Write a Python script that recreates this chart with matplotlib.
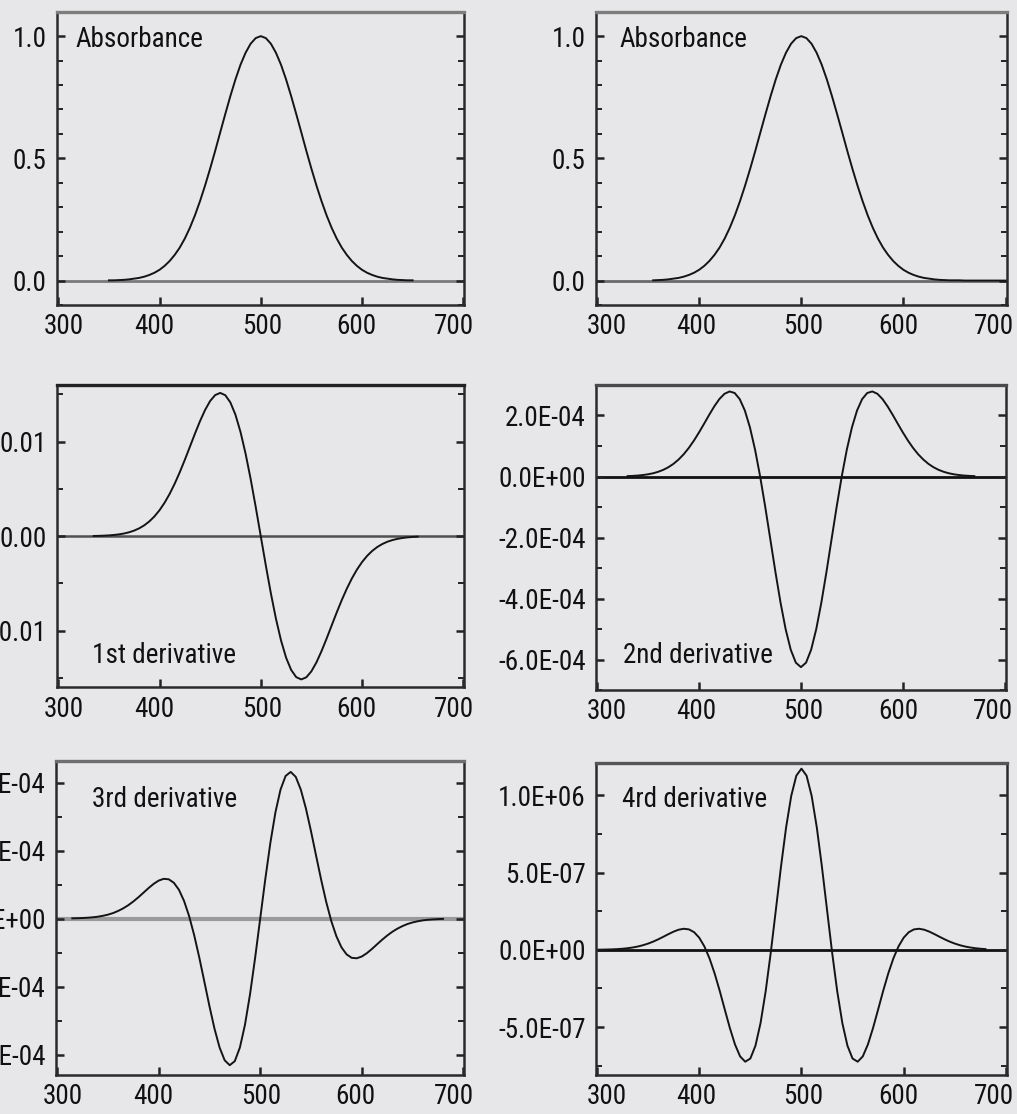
import numpy as np
import matplotlib.pyplot as plt
from matplotlib.ticker import FixedLocator, FixedFormatter, MultipleLocator
from matplotlib.transforms import ScaledTranslation

plt.rcParams['font.family'] = ['Roboto Condensed', 'DejaVu Sans']

# wavelength grid, nm
wavelength = np.arange(300, 701, 5)

# absorbance band and its derivatives, one value per grid point (300 -> 700 nm)
absorbance = [
    0.000, 0.000, 0.000, 0.000, 0.000, 0.000, 0.000, 0.000, 0.000, 0.001,
    0.001, 0.001, 0.002, 0.003, 0.005, 0.008, 0.011, 0.016, 0.023, 0.032,
    0.044, 0.060, 0.080, 0.105, 0.135, 0.172, 0.216, 0.267, 0.325, 0.389,
    0.458, 0.531, 0.607, 0.682, 0.755, 0.823, 0.883, 0.932, 0.969, 0.992,
    1.000,
    0.992, 0.969, 0.932, 0.883, 0.823, 0.755, 0.682, 0.607, 0.531, 0.458,
    0.389, 0.325, 0.267, 0.216, 0.172, 0.135, 0.105, 0.080, 0.060, 0.044,
    0.032, 0.023, 0.016, 0.011, 0.008, 0.005, 0.003, 0.002, 0.001, 0.001,
    0.001, 0.000, 0.000, 0.000, 0.000, 0.000, 0.000, 0.000, 0.000, 0.000,
]

# x 1e-3
first_deriv = [
    0.000, 0.001, 0.001, 0.003, 0.005, 0.008, 0.013, 0.021, 0.034, 0.053,
    0.083, 0.127, 0.191, 0.284, 0.413, 0.592, 0.833, 1.153, 1.567, 2.093,
    2.746, 3.538, 4.475, 5.556, 6.767, 8.082, 9.462, 10.849, 12.174, 13.356,
    14.307, 14.937, 15.163, 14.917, 14.153, 12.853, 11.031, 8.738, 6.058, 3.101,
    0.000,
    -3.101, -6.058, -8.738, -11.031, -12.853, -14.153, -14.917, -15.163, -14.937, -14.307,
    -13.356, -12.174, -10.849, -9.462, -8.082, -6.767, -5.556, -4.475, -3.538, -2.746,
    -2.093, -1.567, -1.153, -0.833, -0.592, -0.413, -0.284, -0.191, -0.127, -0.083,
    -0.053, -0.034, -0.021, -0.013, -0.008, -0.005, -0.003, -0.001, -0.001, 0.000,
]

# x 1e-4
second_deriv = [
    0.001, 0.001, 0.002, 0.003, 0.005, 0.008, 0.013, 0.020, 0.031, 0.048,
    0.072, 0.106, 0.154, 0.218, 0.304, 0.415, 0.556, 0.728, 0.935, 1.174,
    1.442, 1.728, 2.020, 2.298, 2.538, 2.711, 2.788, 2.738, 2.536, 2.163,
    1.609, 0.882, 0.000, -0.999, -2.064, -3.133, -4.137, -5.006, -5.679, -6.104,
    -6.250,
    -6.104, -5.679, -5.006, -4.137, -3.133, -2.064, -0.999, 0.000, 0.882, 1.609,
    2.163, 2.536, 2.738, 2.788, 2.711, 2.538, 2.298, 2.020, 1.728, 1.442,
    1.174, 0.935, 0.728, 0.556, 0.415, 0.304, 0.218, 0.154, 0.106, 0.072,
    0.048, 0.031, 0.020, 0.013, 0.008, 0.005, 0.003, 0.002, 0.001, 0.001,
]

# x 1e-4
third_deriv = [
    0.001, 0.001, 0.002, 0.003, 0.005, 0.008, 0.012, 0.018, 0.027, 0.040,
    0.057, 0.080, 0.111, 0.149, 0.195, 0.250, 0.312, 0.379, 0.447, 0.509,
    0.558, 0.584, 0.577, 0.526, 0.423, 0.260, 0.037, -0.244, -0.571, -0.926,
    -1.285, -1.619, -1.895, -2.083, -2.156, -2.096, -1.896, -1.562, -1.112, -0.578,
    0.000,
    0.578, 1.112, 1.562, 1.896, 2.096, 2.156, 2.083, 1.895, 1.619, 1.285,
    0.926, 0.571, 0.244, -0.037, -0.260, -0.423, -0.526, -0.577, -0.584, -0.558,
    -0.509, -0.447, -0.379, -0.312, -0.250, -0.195, -0.149, -0.111, -0.080, -0.057,
    -0.040, -0.027, -0.018, -0.012, -0.008, -0.005, -0.003, -0.002, -0.001, -0.001,
]

# x 1e-7
fourth_deriv = [
    0.007, 0.011, 0.019, 0.029, 0.046, 0.069, 0.103, 0.150, 0.213, 0.297,
    0.402, 0.530, 0.680, 0.846, 1.017, 1.177, 1.302, 1.361, 1.319, 1.139,
    0.783, 0.226, -0.543, -1.513, -2.643, -3.862, -5.066, -6.124, -6.896, -7.239,
    -7.035, -6.207, -4.739, -2.684, -0.173, 2.599, 5.386, 7.923, 9.953, 11.265,
    11.719,
    11.265, 9.953, 7.923, 5.386, 2.599, -0.173, -2.684, -4.739, -6.207, -7.035,
    -7.239, -6.896, -6.124, -5.066, -3.862, -2.643, -1.513, -0.543, 0.226, 0.783,
    1.139, 1.319, 1.361, 1.302, 1.177, 1.017, 0.846, 0.680, 0.530, 0.402,
    0.297, 0.213, 0.150, 0.103, 0.069, 0.046, 0.029, 0.019, 0.011, 0.007,
]

x_ticks = [300, 400, 500, 600, 700]

bg = '#e7e7e9'
fs = 19.5

panels = [
    dict(rect=[0.0563, 0.7262, 0.4002, 0.2633], y=absorbance, scale=1.0, span=(350, 650),
         ylim=(-0.1, 1.1), ticks=[0.0, 0.5, 1.0], labels=['0.0', '0.5', '1.0'], minor=0.1,
         title='Absorbance', tpos=(0.044, 0.878), zero=('#7a7a7a', 2.0), top='#7d7d7d',
         xshift=[6, -5, 1, -6, -9]),
    dict(rect=[0.5860, 0.7262, 0.4038, 0.2633], y=absorbance, scale=1.0, span=(355, 700),
         ylim=(-0.1, 1.1), ticks=[0.0, 0.5, 1.0], labels=['0.0', '0.5', '1.0'], minor=0.1,
         title='Absorbance', tpos=(0.058, 0.878), zero=('#6a6a6a', 2.0), top='#7d7d7d',
         xshift=[10, -3, 2, -5, -12]),
    dict(rect=[0.0563, 0.3830, 0.4002, 0.2714], y=first_deriv, scale=1e-3, span=(335, 655),
         ylim=(-0.016, 0.016), ticks=[-0.01, 0.0, 0.01], labels=['-0.01', '0.00', '0.01'],
         minor=0.005, title='1st derivative', tpos=(0.085, 0.080), zero=('#505050', 1.8),
         top='#222222', xshift=[6, -5, 1, -6, -9]),
    dict(rect=[0.5860, 0.3806, 0.4031, 0.2738], y=second_deriv, scale=1e-4, span=(330, 670),
         ylim=(-7e-4, 3e-4), ticks=[-6e-4, -4e-4, -2e-4, 0.0, 2e-4],
         labels=['-6.0E-04', '-4.0E-04', '-2.0E-04', '0.0E+00', '2.0E-04'], minor=1e-4,
         title='2nd derivative', tpos=(0.067, 0.088), zero=('#111111', 2.0), top='#4a4a4a',
         xshift=[10, -3, 2, -5, -12]),
    dict(rect=[0.0551, 0.0350, 0.4015, 0.2821], y=third_deriv, scale=1e-4, span=(315, 680),
         ylim=(-2.3e-4, 2.32e-4), ticks=[-2e-4, -1e-4, 0.0, 1e-4, 2e-4],
         labels=['-2.0E-04', '-1.0E-04', '0.0E+00', '1.0E-04', '2.0E-04'], minor=0.5e-4,
         title='3rd derivative', tpos=(0.087, 0.854), zero=('#9a9a9a', 3.0), top='#6e6e6e',
         xshift=[6, -5, 1, -6, -9]),
    dict(rect=[0.5860, 0.0350, 0.4041, 0.2803], y=fourth_deriv, scale=1e-7, span=(300, 680),
         ylim=(-8.1e-7, 1.21e-6), ticks=[-5e-7, 0.0, 5e-7, 1e-6],
         labels=['-5.0E-07', '0.0E+00', '5.0E-07', '1.0E+06'], minor=2.5e-7,
         title='4rd derivative', tpos=(0.063, 0.859), zero=('#111111', 2.0), top='#555555',
         xshift=[10, -3, 2, -5, -12]),
]

fig = plt.figure(figsize=(10.17, 11.14), dpi=100, facecolor=bg)

for p in panels:
    ax = fig.add_axes(p['rect'])
    ax.set_facecolor(bg)

    zc, zw = p['zero']
    ax.axhline(0, color=zc, lw=zw, zorder=1)

    vals = np.array(p['y']) * p['scale']
    keep = (wavelength >= p['span'][0]) & (wavelength <= p['span'][1])
    ax.plot(wavelength[keep], vals[keep], color='#141414', lw=1.4, zorder=2,
            solid_joinstyle='round')

    ax.set_xlim(299, 701)
    ax.set_ylim(*p['ylim'])
    ax.xaxis.set_major_locator(FixedLocator(x_ticks))
    ax.yaxis.set_major_locator(FixedLocator(p['ticks']))
    ax.yaxis.set_major_formatter(FixedFormatter(p['labels']))
    ax.yaxis.set_minor_locator(MultipleLocator(p['minor']))

    ax.tick_params(axis='both', which='both', direction='in', labelsize=fs,
                   colors='#222222', labelcolor='#111111')
    ax.tick_params(axis='y', which='both', left=True, right=True, pad=7.5)
    ax.tick_params(axis='x', which='both', top=False, pad=6)
    ax.tick_params(which='major', length=6, width=1.8)
    ax.tick_params(which='minor', length=4.5, width=1.4)

    # the wavelength labels sit slightly off their ticks, pulled in at the ends
    for tick, dx in zip(ax.xaxis.get_major_ticks(), p['xshift']):
        lbl = tick.label1
        lbl.set_transform(lbl.get_transform() + ScaledTranslation(dx / 100, 0, fig.dpi_scale_trans))

    for side in ['left', 'bottom', 'right']:
        ax.spines[side].set_color('#2a2a2a')
        ax.spines[side].set_linewidth(1.8)
    ax.spines['top'].set_color(p['top'])
    ax.spines['top'].set_linewidth(2.4)

    ax.text(p['tpos'][0], p['tpos'][1], p['title'], transform=ax.transAxes,
            fontsize=fs, color='#111111', ha='left', va='baseline')

fig.savefig('out.png', dpi=100, facecolor=bg)
